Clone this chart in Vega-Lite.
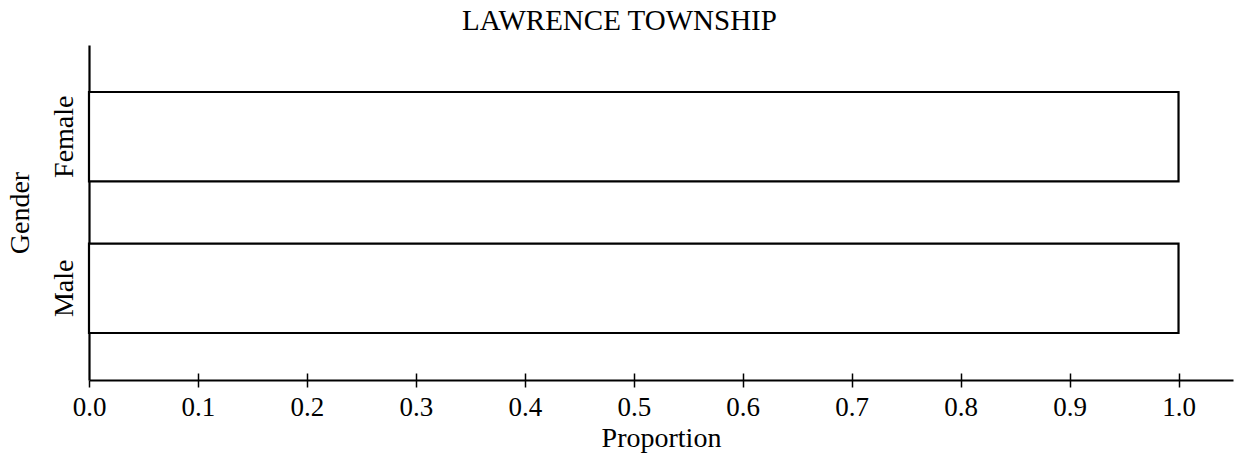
{
  "$schema": "https://vega.github.io/schema/vega-lite/v6.json",
  "width": 1144,
  "height": 335,
  "autosize": {"type": "none"},
  "padding": {"left": 89, "top": 45, "right": 2, "bottom": 79},
  "background": "white",
  "title": {
    "text": "LAWRENCE TOWNSHIP",
    "font": "Liberation Serif",
    "fontSize": 29,
    "fontWeight": "normal",
    "color": "black",
    "anchor": "middle",
    "frame": "bounds",
    "offset": 9
  },
  "config": {
    "view": {"stroke": null},
    "font": "Liberation Serif"
  },
  "data": {
    "values": [
      {"Gender": "Female", "Proportion": 1.0},
      {"Gender": "Male", "Proportion": 1.0}
    ]
  },
  "layer": [
    {
      "mark": {"type": "bar", "fill": "white", "stroke": "black", "strokeWidth": 2.2},
      "encoding": {
        "x": {
          "field": "Proportion",
          "type": "quantitative",
          "scale": {"domain": [0, 1.05], "nice": false, "zero": true},
          "axis": {
            "title": "Proportion",
            "titleFont": "Liberation Serif",
            "titleFontSize": 28,
            "titleFontWeight": "normal",
            "titleColor": "black",
            "titlePadding": 4,
            "values": [0, 0.1, 0.2, 0.3, 0.4, 0.5, 0.6, 0.7, 0.8, 0.9, 1.0],
            "format": ".1f",
            "labelFont": "Liberation Serif",
            "labelFontSize": 27,
            "labelColor": "black",
            "labelPadding": 7,
            "labelFlush": false,
            "labelOverlap": false,
            "tickSize": 7,
            "tickWidth": 1.5,
            "tickColor": "black",
            "domainColor": "black",
            "domainWidth": 2.2,
            "grid": false
          }
        },
        "y": {
          "field": "Gender",
          "type": "nominal",
          "sort": ["Female", "Male"],
          "scale": {"paddingInner": 0.41, "paddingOuter": 0.31},
          "axis": {
            "title": "Gender",
            "titleFont": "Liberation Serif",
            "titleFontSize": 28,
            "titleFontWeight": "normal",
            "titleColor": "black",
            "titlePadding": 16,
            "labelAngle": -90,
            "labelAlign": "center",
            "labelBaseline": "alphabetic",
            "labelFont": "Liberation Serif",
            "labelFontSize": 28,
            "labelColor": "black",
            "labelPadding": 17,
            "ticks": false,
            "domainColor": "black",
            "domainWidth": 2.2,
            "grid": false
          }
        }
      }
    },
    {
      "mark": {"type": "bar", "opacity": 0},
      "encoding": {
        "x": {
          "field": "Proportion",
          "type": "quantitative",
          "axis": {
            "orient": "bottom",
            "title": null,
            "labels": false,
            "domain": false,
            "values": [0.1, 0.2, 0.3, 0.4, 0.5, 0.6, 0.7, 0.8, 0.9, 1.0],
            "tickSize": -7,
            "tickWidth": 1.5,
            "tickColor": "black",
            "grid": false
          }
        },
        "y": {"field": "Gender", "type": "nominal", "sort": ["Female", "Male"]}
      }
    }
  ],
  "resolve": {"axis": {"x": "independent"}}
}
